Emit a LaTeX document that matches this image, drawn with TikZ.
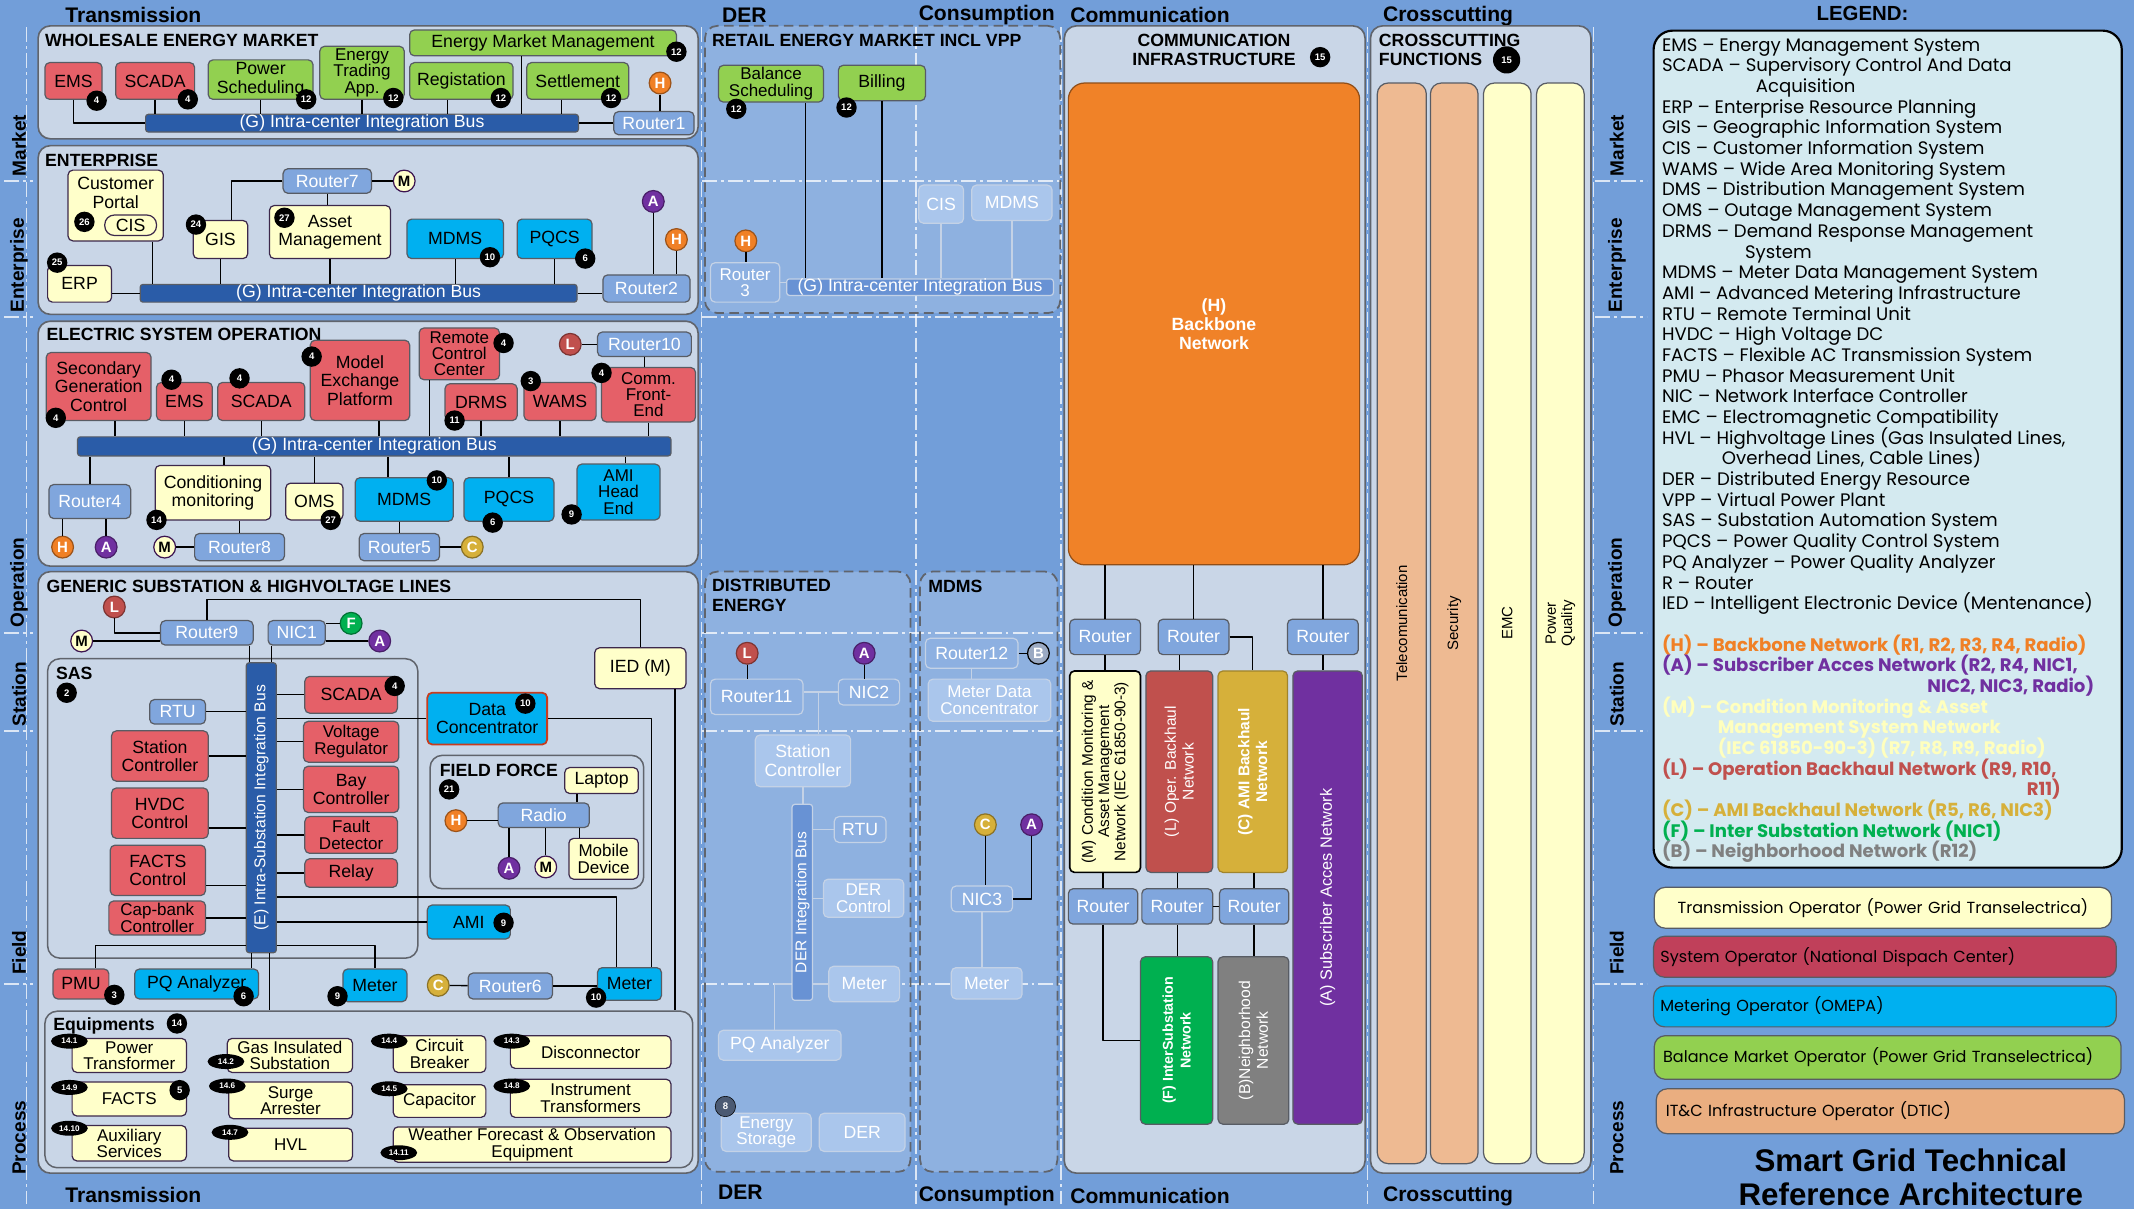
\documentclass[tikz,border=0pt]{standalone}
\usepackage{fontspec}
\setmainfont{Liberation Sans}
\newfontfamily\legendfont{Poppins}
\usetikzlibrary{positioning,shapes.geometric}
\newcommand{\legsize}{\fontsize{13.3}{15.2}\selectfont\setlength{\lineskiplimit}{-40pt}}

\definecolor{bgblue}{RGB}{114,158,217}
\definecolor{panelfill}{RGB}{201,214,231}
\definecolor{panelline}{RGB}{96,100,108}
\definecolor{nodered}{RGB}{229,96,104}
\definecolor{nodegreen}{RGB}{146,208,80}
\definecolor{nodeyellow}{RGB}{255,255,202}
\definecolor{nodecyan}{RGB}{0,176,240}
\definecolor{edgegray}{RGB}{88,92,100}
\definecolor{yline}{RGB}{60,40,75}
\definecolor{routerblue}{RGB}{128,166,221}
\definecolor{busblue}{RGB}{42,92,168}
\definecolor{ghostfill}{RGB}{170,198,236}
\definecolor{ghostline}{RGB}{196,210,230}
\definecolor{ghostbus}{RGB}{104,146,212}
\definecolor{hcol}{RGB}{240,128,38}
\definecolor{acol}{RGB}{112,48,160}
\definecolor{lcol}{RGB}{192,80,77}
\definecolor{ccol}{RGB}{214,176,58}
\definecolor{fcol}{RGB}{0,176,80}
\definecolor{bcol}{RGB}{128,128,128}
\definecolor{bnet}{RGB}{155,170,195}
\definecolor{mline}{RGB}{60,20,80}
\definecolor{bbone}{RGB}{240,130,40}
\definecolor{peach}{RGB}{238,186,146}
\definecolor{legfill}{RGB}{212,234,240}
\definecolor{sysop}{RGB}{192,64,90}
\definecolor{itc}{RGB}{234,174,128}
\definecolor{mtext}{RGB}{255,255,190}
\definecolor{dcline}{RGB}{200,60,30}
\definecolor{badgegray}{RGB}{75,90,115}

\begin{document}
\begin{tikzpicture}[x=1pt,y=-1pt,line join=round,
  wh/.style 2 args={minimum width=#1,minimum height=#2},
  box/.style={draw=edgegray,line width=0.9pt,rounded corners=3.5pt,align=center,inner sep=1pt,
    font=\fontsize{13}{13.5}\selectfont},
  tight/.style={inner sep=0pt,font=\fontsize{12.5}{12}\selectfont},
  rbox/.style={box,fill=nodered},
  gbox/.style={box,fill=nodegreen},
  ybox/.style={box,fill=nodeyellow,draw=yline},
  cbox/.style={box,fill=nodecyan},
  router/.style={box,fill=routerblue,text=white},
  grouter/.style={box,fill=routerblue!70!ghostfill,draw=ghostline,text=white},
  ghost/.style={box,fill=ghostfill,draw=ghostline,text=white},
  bus/.style={box,fill=busblue,text=white,rounded corners=2pt,inner sep=0pt},
  panel/.style={draw=panelline,fill=panelfill,line width=1.2pt,rounded corners=9pt},
  dpanel/.style={draw=panelline,fill=white,fill opacity=0.2,line width=1.3pt,dash pattern=on 7pt off 4pt,rounded corners=9pt},
  sub/.style={draw=panelline,line width=1.1pt,rounded corners=9pt},
  ptitle/.style={anchor=west,inner sep=0pt,align=left,font=\bfseries\fontsize{13}{14}\selectfont},
  zone/.style={inner sep=0pt,font=\bfseries\fontsize{15.5}{16}\selectfont},
  side/.style={inner sep=0pt,rotate=90,font=\bfseries\fontsize{14}{14}\selectfont},
  badge/.style={circle,fill=black,text=white,inner sep=0pt,minimum size=15pt,font=\bfseries\fontsize{7}{7}\selectfont},
  tag/.style={ellipse,fill=black,text=white,inner sep=0pt,minimum width=27pt,minimum height=11pt,font=\bfseries\fontsize{6}{6}\selectfont},
  net/.style={circle,fill=#1,draw=#1!65!black,line width=0.9pt,text=white,inner sep=0pt,minimum size=16pt,font=\bfseries\fontsize{11}{11}\selectfont},
  wire/.style={draw=black,line width=1pt},
  gwire/.style={draw=ghostline,line width=1pt},
  sep/.style={draw=white,draw opacity=0.75,line width=1pt,dash pattern=on 11pt off 3pt on 2pt off 3pt},
  vtext/.style={rotate=90,align=center,inner sep=0pt},
  oper/.style={box,rounded corners=8pt,text width=330pt,align=left,font=\legendfont\fontsize{11.8}{12}\selectfont}]

\fill[bgblue] (0,0) rectangle (1568,888);
\useasboundingbox (0,0) rectangle (1568,888);

\foreach \xx in {19.5,515.5,673,779.5,1005,1171}
  \draw[sep] (\xx,20) -- (\xx,885);
\foreach \yy in {133,233,465,537,723}{
  \draw[sep] (3,\yy) -- (24,\yy);
  \draw[sep] (516,\yy) -- (780,\yy);
  \draw[sep] (1172,\yy) -- (1210,\yy);}

\node[zone] (ttrans) at (98,11) {Transmission};
\node[zone] (tder) at (547,11) {DER};
\node[zone] (tcons) at (725,11) {Consumption};
\node[zone] (tcomm) at (845,11) {Communication};
\node[zone] (tcross) at (1064,12) {Crosscutting};
\node[zone] (btrans) at (98,878) {Transmission};
\node[zone] (bder) at (544,876) {DER};
\node[zone] (bcons) at (725,879) {Consumption};
\node[zone] (bcomm) at (845,879) {Communication};
\node[zone] (bcross) at (1064,879) {Crosscutting};
\foreach \nm/\yy [count=\i] in {Market/107,Enterprise/195,Operation/428,Station/510,Field/700,Process/836}{
  \node[side] (lz\i) at (14,\yy) {\nm};
  \node[side] (rz\i) at (1188,\yy) {\nm};}

\node[panel,wh={485}{83}] (pwm) at (270.5,60.5) {};
\node[panel,wh={485}{124}] (pent) at (270.5,169) {};
\node[panel,wh={485}{180}] (pop) at (270.5,326) {};
\node[panel,wh={485}{442}] (psub) at (270.5,641) {};
\node[dpanel,wh={261}{211}] (pret) at (648.5,124.5) {};
\node[dpanel,wh={151}{441}] (pder) at (593.5,640.5) {};
\node[dpanel,wh={101}{441}] (pmd) at (726.5,640.5) {};
\node[panel,wh={221}{843}] (pcom) at (892.5,440.5) {};
\node[panel,wh={162}{843}] (pcross) at (1088,440.5) {};

\node[ptitle] (twm) at (33,30) {WHOLESALE ENERGY MARKET};
\node[rbox,wh={42}{27}] (wems) at (54,59.5) {EMS};
\node[rbox,wh={58}{27}] (wscada) at (114,59.5) {SCADA};
\node[gbox,wh={77}{29}] (wps) at (191.5,58.5) {Power\\Scheduling};
\node[gbox,tight,wh={62}{39}] (wtrade) at (266,53.5) {Energy\\Trading\\App.};
\node[gbox,wh={196}{19}] (wemm) at (399,31.5) {Energy Market Management};
\node[gbox,wh={76}{27}] (wreg) at (339,59.5) {Registation};
\node[gbox,wh={75}{27}] (wset) at (424.5,59.5) {Settlement};
\node[bus,wh={318}{13}] (wbus) at (266,90.5) {(G) Intra-center Integration Bus};
\node[router,wh={59}{17}] (r1) at (480.5,90.5) {Router1};
\node[net=hcol] (wh) at (485,61) {H};

\node[ptitle] (tent) at (33,118) {ENTERPRISE};
\node[ybox,wh={70}{52}] (cport) at (85,151) {};
\node[inner sep=0pt,align=center,font=\fontsize{13}{14}\selectfont] (tcport) at (85,142) {Customer\\Portal};
\node[ybox,wh={38}{15},rounded corners=7pt,inner sep=0pt] (cis) at (96,165.5) {CIS};
\node[router,wh={65}{18}] (r7) at (240.5,133) {Router7};
\node[net=nodeyellow,draw=mline,text=black] (em) at (297,133) {M};
\node[ybox,wh={40}{28}] (gis) at (162,176) {GIS};
\node[ybox,wh={89}{39}] (asset) at (242.5,170.5) {Asset\\Management};
\node[cbox,wh={71}{29}] (emdms) at (334.5,175.5) {MDMS};
\node[cbox,wh={55}{29}] (epqcs) at (407.5,175.5) {PQCS};
\node[net=acol] (ea) at (480,148) {A};
\node[net=hcol] (eh) at (497,176) {H};
\node[router,wh={64}{20}] (r2) at (475,212) {Router2};
\node[ybox,wh={47}{27}] (erp) at (58.5,208.5) {ERP};
\node[bus,wh={321}{13}] (ebus) at (263.5,215.5) {(G) Intra-center Integration Bus};

\node[ptitle] (top) at (34,246) {ELECTRIC SYSTEM OPERATION};
\node[rbox,wh={77}{50}] (sgc) at (72.5,284) {Secondary\\Generation\\Control};
\node[rbox,wh={41}{28}] (oems) at (135.5,295) {EMS};
\node[rbox,wh={64}{28}] (oscada) at (192,295) {SCADA};
\node[rbox,wh={73}{59}] (mep) at (264.5,279.5) {Model\\Exchange\\Platform};
\node[rbox,tight,wh={59}{38}] (rcc) at (337.5,260) {Remote\\Control\\Center};
\node[net=lcol] (ol) at (419,253) {L};
\node[router,wh={69}{18}] (r10) at (473.5,253) {Router10};
\node[rbox,wh={53}{27}] (drms) at (353.5,295.5) {DRMS};
\node[rbox,wh={53}{28}] (wams) at (411.5,295) {WAMS};
\node[rbox,tight,wh={69}{40}] (cfe) at (476.5,290) {Comm.\\Front-\\End};
\node[bus,wh={436}{14}] (obus) at (275,328) {(G) Intra-center Integration Bus};
\node[router,wh={60}{25}] (r4) at (66,368.5) {Router4};
\node[net=hcol] (oh) at (46,402) {H};
\node[net=acol] (oa) at (78,402) {A};
\node[ybox,wh={85}{40}] (cond) at (156.5,362) {Conditioning\\monitoring};
\node[net=nodeyellow,draw=mline,text=black] (om) at (121,402) {M};
\node[router,wh={66}{20}] (r8) at (176,402) {Router8};
\node[ybox,wh={42}{27}] (oms) at (231,368.5) {OMS};
\node[cbox,wh={72}{32}] (omdms) at (297,367) {MDMS};
\node[cbox,wh={66}{32}] (opqcs) at (374,367) {PQCS};
\node[cbox,tight,wh={61}{41}] (amihe) at (454.5,361.5) {AMI\\Head\\End};
\node[router,wh={59}{20}] (r5) at (293.5,402) {Router5};
\node[net=ccol] (oc) at (347,402) {C};

\node[ptitle] (tsub) at (34,431) {GENERIC SUBSTATION \& HIGHVOLTAGE LINES};
\node[sub,wh={272}{220}] (sas) at (171,594) {};
\node[ptitle] (tsas) at (41,495) {SAS};
\node[sub,wh={157}{98}] (ffbox) at (394.5,604) {};
\node[ptitle] (tff) at (323,566) {FIELD FORCE};
\node[sub,wh={476}{115}] (equip) at (271,800.5) {};
\node[ptitle] (teq) at (39,754) {Equipments};
\node[net=lcol] (gl) at (84,446) {L};
\node[net=nodeyellow,draw=mline,text=black] (gm) at (60,471) {M};
\node[router,wh={68}{18}] (r9) at (152,465) {Router9};
\node[router,wh={42}{18}] (nic1) at (218,465) {NIC1};
\node[net=fcol] (gf) at (258,458) {F};
\node[net=acol] (ga) at (279,471) {A};
\node[ybox,wh={67}{30}] (ied) at (470.5,491) {IED (M)};
\node[bus,wh={22}{213}] (sbus) at (192,593.5) {};
\node[vtext,text=white,font=\fontsize{11.5}{12}\selectfont] (tsbus) at (192,593.5) {(E) Intra-Substation Integration Bus};
\node[router,wh={41}{18}] (rtu) at (130.5,523) {RTU};
\node[rbox,wh={71}{37}] (stc) at (117.5,555.5) {Station\\Controller};
\node[rbox,wh={71}{37}] (hvdc) at (117.5,597.5) {HVDC\\Control};
\node[rbox,wh={70}{37}] (facts) at (116,639.5) {FACTS\\Control};
\node[rbox,tight,wh={71}{25}] (capb) at (115.5,674.5) {Cap-bank\\Controller};
\node[rbox,wh={68}{27}] (sscada) at (258,510.5) {SCADA};
\node[rbox,tight,wh={70}{30}] (vreg) at (258,545) {Voltage\\Regulator};
\node[rbox,wh={70}{34}] (bay) at (258,580) {Bay\\Controller};
\node[rbox,tight,wh={68}{27}] (fault) at (258,613.5) {Fault\\Detector};
\node[rbox,wh={68}{21}] (relay) at (258,641.5) {Relay};
\node[cbox,wh={88}{38},draw=dcline,line width=1.3pt] (dc) at (358,528) {Data\\Concentrator};
\node[ybox,wh={54}{19}] (laptop) at (442,573.5) {Laptop};
\node[router,wh={67}{18}] (radio) at (399.5,599) {Radio};
\node[net=hcol] (fh) at (335,603) {H};
\node[net=acol] (fa) at (374,638) {A};
\node[net=nodeyellow,draw=mline,text=black] (fm) at (401,637) {M};
\node[ybox,tight,wh={51}{30}] (mobile) at (443.5,631) {Mobile\\Device};
\node[cbox,wh={61}{25}] (ami) at (344.5,677.5) {AMI};
\node[rbox,wh={41}{22}] (pmu) at (59.5,723) {PMU};
\node[cbox,wh={91}{22}] (pqa) at (144.5,723) {PQ Analyzer};
\node[cbox,wh={47}{24}] (met9) at (275.5,724) {Meter};
\node[net=ccol] (gc) at (322,724) {C};
\node[router,wh={62}{19}] (r6) at (375,724.5) {Router6};
\node[cbox,wh={47}{24}] (met10) at (462.5,723) {Meter};
\node[ybox,tight,wh={84}{25}] (eq1) at (95,775.5) {Power\\Transformer};
\node[ybox,tight,wh={92}{25}] (eq2) at (213,775.5) {Gas Insulated\\Substation};
\node[ybox,tight,wh={68}{27}] (eq4) at (323,774.5) {Circuit\\Breaker};
\node[ybox,tight,wh={118}{24}] (eq3) at (434,773) {Disconnector};
\node[ybox,tight,wh={84}{25}] (eq9) at (95,807.5) {FACTS};
\node[ybox,tight,wh={91}{27}] (eq6) at (213.5,808.5) {Surge\\Arrester};
\node[ybox,tight,wh={68}{24}] (eq5) at (323,809) {Capacitor};
\node[ybox,tight,wh={118}{28}] (eq8) at (434,807) {Instrument\\Transformers};
\node[ybox,tight,wh={84}{26}] (eq10) at (95,840) {Auxiliary\\Services};
\node[ybox,tight,wh={91}{24}] (eq7) at (213.5,841) {HVL};
\node[ybox,tight,wh={204}{26}] (eq11) at (391,841) {Weather Forecast \& Observation\\Equipment};

\node[ptitle] (tret) at (523,30) {RETAIL ENERGY MARKET INCL VPP};
\node[gbox,tight,wh={77}{27}] (bsch) at (566.5,61.5) {Balance\\Scheduling};
\node[gbox,wh={64}{26}] (bill) at (648,61) {Billing};
\node[ghost,wh={33}{28}] (rcis) at (691.5,150) {CIS};
\node[ghost,wh={59}{26}] (rmdms) at (743.5,149) {MDMS};
\node[net=hcol] (rh) at (548,177) {H};
\node[grouter,tight,wh={51}{29}] (r3) at (547.5,207.5) {Router\\3};
\node[bus,fill=ghostbus,draw=ghostline,wh={196}{12}] (rbus) at (676,211) {(G) Intra-center Integration Bus};

\node[ptitle] (tdist) at (523,437.5) {DISTRIBUTED\\ENERGY};
\node[net=lcol] (dl) at (549,480) {L};
\node[net=acol] (da) at (635,480) {A};
\node[grouter,wh={68}{26}] (r11) at (556,512) {Router11};
\node[grouter,wh={45}{19}] (nic2) at (638.5,508.5) {NIC2};
\node[ghost,wh={70}{38}] (dstc) at (590,559) {Station\\Controller};
\node[bus,fill=ghostbus,draw=ghostline,wh={15}{144}] (dbus) at (589.5,663) {};
\node[vtext,text=white,font=\fontsize{11.4}{12}\selectfont] (tdbus) at (589.5,663) {DER Integration Bus};
\node[grouter,wh={38}{19}] (drtu) at (632,609.5) {RTU};
\node[ghost,tight,wh={59}{28}] (derc) at (634.5,660) {DER\\Control};
\node[ghost,wh={52}{26}] (dmet) at (635,723) {Meter};
\node[ghost,wh={90}{22}] (dpqa) at (573,768) {PQ Analyzer};
\node[ghost,tight,wh={66}{28}] (estor) at (563,832) {Energy\\Storage};
\node[ghost,wh={63}{28}] (der) at (633.5,832) {DER};

\node[ptitle] (tmd) at (682,431) {MDMS};
\node[grouter,wh={68}{22}] (r12) at (714,480) {Router12};
\node[net=bnet,draw=black] (mb) at (763,480) {B};
\node[ghost,tight,wh={90}{31}] (mdc) at (727,514.5) {Meter Data\\Concentrator};
\node[net=ccol] (mc) at (724,606) {C};
\node[net=acol] (ma) at (758,606) {A};
\node[grouter,wh={45}{19}] (nic3) at (721.5,660.5) {NIC3};
\node[ghost,wh={52}{23}] (mmet) at (725,722.5) {Meter};

\node[ptitle,anchor=center,align=center] (tcom) at (892,37) {COMMUNICATION\\INFRASTRUCTURE};
\node[box,fill=bbone,draw=bbone!60!black,wh={214}{354},rounded corners=12pt,text=white,font=\bfseries\fontsize{13}{14}\selectfont] (bbn) at (892,238) {(H)\\Backbone\\Network};
\node[router,wh={52}{26}] (cr1) at (812,468) {Router};
\node[router,wh={52}{26}] (cr2) at (877,468) {Router};
\node[router,wh={52}{26}] (cr3) at (972,468) {Router};
\node[ybox,wh={52}{148},draw=black,line width=1.2pt] (cm) at (812,567) {};
\node[vtext,font=\fontsize{11.3}{12}\selectfont] (tcm) at (812,567) {(M) Condition Monitoring \&\\Asset Management\\Network (IEC 61850-90-3)};
\node[box,fill=lcol,wh={49}{148}] (cl) at (866.5,567) {};
\node[vtext,text=white,font=\fontsize{11.4}{13}\selectfont] (tcl) at (866.5,567) {(L) Oper. Backhaul\\Network};
\node[box,fill=ccol,draw=ccol!75!black,wh={51}{148}] (cc) at (920.5,567) {};
\node[vtext,text=white,font=\bfseries\fontsize{11.4}{13}\selectfont] (tcc) at (920.5,567) {(C) AMI Backhaul\\Network};
\node[box,fill=acol,wh={51}{333}] (ca) at (975.5,659.5) {};
\node[vtext,text=white,font=\fontsize{12}{13}\selectfont] (tca) at (975.5,659.5) {(A) Subscriber Acces Network};
\node[router,wh={51}{26}] (cr4) at (810.5,666) {Router};
\node[router,wh={52}{26}] (cr5) at (865,666) {Router};
\node[router,wh={51}{26}] (cr6) at (921.5,666) {Router};
\node[box,fill=fcol,wh={53}{123}] (cf) at (864.5,764.5) {};
\node[vtext,text=white,font=\bfseries\fontsize{10.5}{13}\selectfont] (tcf) at (864.5,764.5) {(F) InterSubstation\\Network};
\node[box,fill=bcol,wh={52}{123}] (cb) at (921,764.5) {};
\node[vtext,text=white,font=\fontsize{11.5}{13}\selectfont] (tcb) at (921,764.5) {(B)Neighborhood\\Network};

\node[ptitle] (tcrs) at (1013,37) {CROSSCUTTING\\FUNCTIONS};
\node[box,fill=peach,wh={36}{794},rounded corners=8pt] (xtel) at (1030,458) {};
\node[vtext,font=\fontsize{11}{12}\selectfont] (txtel) at (1030,458) {Telecomunication};
\node[box,fill=peach,wh={35}{794},rounded corners=8pt] (xsec) at (1068.5,458) {};
\node[vtext,font=\fontsize{11}{12}\selectfont] (txsec) at (1068.5,458) {Security};
\node[box,fill=nodeyellow,wh={35}{794},rounded corners=8pt] (xemc) at (1107.5,458) {};
\node[vtext,font=\fontsize{11}{12}\selectfont] (txemc) at (1107.5,458) {EMC};
\node[box,fill=nodeyellow,wh={35}{794},rounded corners=8pt] (xpq) at (1146.5,458) {};
\node[vtext,font=\fontsize{11}{12}\selectfont] (txpq) at (1146.5,458) {Power\\Quality};

\node[inner sep=0pt,font=\bfseries\fontsize{15}{15}\selectfont] (tleg) at (1368.5,10) {LEGEND:};
\node[draw=black,line width=1.6pt,fill=legfill,rounded corners=14pt,wh={344}{615}] (leg) at (1387,330) {};
\node[anchor=north west,inner sep=0pt,align=left,font=\legendfont\legsize] (legtxt) at (1221,28) {%
EMS – Energy Management System\\
SCADA – Supervisory Control And Data\\
\hspace*{69pt}Acquisition\\
ERP – Enterprise Resource Planning\\
GIS – Geographic Information System\\
CIS – Customer Information System\\
WAMS – Wide Area Monitoring System\\
DMS – Distribution Management System\\
OMS – Outage Management System\\
DRMS – Demand Response Management\\
\hspace*{61pt}System\\
MDMS – Meter Data Management System\\
AMI – Advanced Metering Infrastructure\\
RTU – Remote Terminal Unit\\
HVDC – High Voltage DC\\
FACTS – Flexible AC Transmission System\\
PMU – Phasor Measurement Unit\\
NIC – Network Interface Controller\\
EMC – Electromagnetic Compatibility\\
HVL – Highvoltage Lines (Gas Insulated Lines,\\
\hspace*{44pt}Overhead Lines, Cable Lines)\\
DER – Distributed Energy Resource\\
VPP – Virtual Power Plant\\
SAS – Substation Automation System\\
PQCS – Power Quality Control System\\
PQ Analyzer – Power Quality Analyzer\\
R – Router\\
IED – Intelligent Electronic Device (Mentenance)\\
\mbox{}\\
{\bfseries\color{hcol}(H) – Backbone Network (R1, R2, R3, R4, Radio)}\\
{\bfseries\color{acol}(A) – Subscriber Acces Network (R2, R4, NIC1,}\\
\hspace*{195pt}{\bfseries\color{acol}NIC2, NIC3, Radio)}\\
{\bfseries\color{mtext}(M) – Condition Monitoring \& Asset}\\
\hspace*{41pt}{\bfseries\color{mtext}Management System Network}\\
\hspace*{41pt}{\bfseries\color{mtext}(IEC 61850-90-3) (R7, R8, R9, Radio)}\\
{\bfseries\color{lcol}(L) – Operation Backhaul Network (R9, R10,}\\
\hspace*{268pt}{\bfseries\color{lcol}R11)}\\
{\bfseries\color{ccol}(C) – AMI Backhaul Network (R5, R6, NIC3)}\\
{\bfseries\color{fcol}(F) – Inter Substation Network (NIC1)}\\
{\bfseries\color{bcol}(B) – Neighborhood Network (R12)}};

\node[oper,fill=nodeyellow,wh={336}{30},align=center] (op1) at (1383.5,667) {Transmission Operator (Power Grid Transelectrica)};
\node[oper,fill=sysop,wh={340}{30}] (op2) at (1385,703) {System Operator (National Dispach Center)};
\node[oper,fill=nodecyan,wh={340}{30}] (op3) at (1385,739.5) {Metering Operator (OMEPA)};
\node[oper,fill=nodegreen,wh={343}{32}] (op4) at (1387,777) {Balance Market Operator (Power Grid Transelectrica)};
\node[oper,fill=itc,wh={344}{33}] (op5) at (1389,816.5) {IT\&C Infrastructure Operator (DTIC)};
\node[align=center,inner sep=0pt,font=\bfseries\fontsize{23}{24.5}\selectfont] (title) at (1404,865) {Smart Grid Technical\\Reference Architecture};

\draw[wire] (wems) |- (wbus);
\draw[wire] (wscada) -- (wscada |- wbus.north);
\draw[wire] (wps) -- (wps |- wbus.north);
\draw[wire] (wtrade) -- (wtrade |- wbus.north);
\draw[wire] ([xshift=-10pt]wreg.south) -- ([xshift=-10pt]wreg.south |- wbus.north);
\draw[wire] ([xshift=-16pt]wemm.south) -- ([xshift=-16pt]wemm.south |- wbus.north);
\draw[wire] ([xshift=-12pt]wset.south) -- ([xshift=-12pt]wset.south |- wbus.north);
\draw[wire] (wbus) -- (r1);
\draw[wire] (wh) -- (wh |- r1.north);

\draw[wire] (r7) -| ([xshift=8pt]gis.north);
\draw[wire] (r7) -- (r7 |- asset.north);
\draw[wire] (r7) -- (em);
\draw[wire] ([xshift=27pt]cport.south) -- ([xshift=27pt]cport.south |- ebus.north);
\draw[wire] (gis) -- (gis |- ebus.north);
\draw[wire] (asset) -- (asset |- ebus.north);
\draw[wire] (emdms) -- (emdms |- ebus.north);
\draw[wire] (epqcs) -- (epqcs |- ebus.north);
\draw[wire] (erp.east |- ebus) -- (ebus);
\draw[wire] (ebus) -- (ebus -| r2.west);
\draw[wire] (ea) -- (ea |- r2.north);
\draw[wire] (eh) -- (eh |- r2.north);

\draw[wire] ([xshift=12pt]sgc.south) -- ([xshift=12pt]sgc.south |- obus.north);
\draw[wire] (oems) -- (oems |- obus.north);
\draw[wire] (oscada) -- (oscada |- obus.north);
\draw[wire] ([xshift=14pt]mep.south) -- ([xshift=14pt]mep.south |- obus.north);
\draw[wire] ([xshift=-22pt]rcc.south) -- ([xshift=-22pt]rcc.south |- obus.north);
\draw[wire] (drms) -- (drms |- obus.north);
\draw[wire] (wams) -- (wams |- obus.north);
\draw[wire] (cfe) -- (cfe |- obus.north);
\draw[wire] (ol) -- (r10);
\draw[wire] (r10) -- (r10 |- cfe.north);
\draw[wire] (r4) -- (r4 |- obus.south);
\draw[wire] ([xshift=8pt]cond.north) -- ([xshift=8pt]cond.north |- obus.south);
\draw[wire] (oms) -- (oms |- obus.south);
\draw[wire] ([xshift=-12pt]omdms.north) -- ([xshift=-12pt]omdms.north |- obus.south);
\draw[wire] (opqcs) -- (opqcs |- obus.south);
\draw[wire] ([xshift=5pt]amihe.north) -- ([xshift=5pt]amihe.north |- obus.south);
\draw[wire] (oh) -- (oh |- r4.south);
\draw[wire] (oa) -- (oa |- r4.south);
\draw[wire] (om) -- (r8);
\draw[wire] (r8) -- (r8 |- cond.south);
\draw[wire] (r5) -- (r5 |- omdms.south);
\draw[wire] (r5) -- (oc);

\draw[wire] (gl) |- (r9);
\draw[wire] (gm) -- (gm -| r9.west);
\draw[wire] (r9.north) |- ([yshift=35pt]ied.north) -- (ied.north);
\draw[wire] (nic1.east |- gf) -- (gf);
\draw[wire] (nic1.east |- ga) -- (ga);
\draw[wire] ([xshift=-3pt]r9.south east) -- ([xshift=-3pt]r9.south east |- sbus.north);
\draw[wire] ([xshift=3pt]nic1.south west) -- ([xshift=3pt]nic1.south west |- sbus.north);
\draw[wire] (rtu) -- (rtu -| sbus.west);
\draw[wire] (stc) -- (stc -| sbus.west);
\draw[wire] ([yshift=-11pt]hvdc.east) -- ([yshift=-11pt]hvdc.east -| sbus.west);
\draw[wire] ([yshift=-11pt]facts.east) -- ([yshift=-11pt]facts.east -| sbus.west);
\draw[wire] (capb) -- (capb -| sbus.west);
\draw[wire] (sscada) -- (sscada -| sbus.east);
\draw[wire] (vreg) -- (vreg -| sbus.east);
\draw[wire] (bay) -- (bay -| sbus.east);
\draw[wire] (fault) -- (fault -| sbus.east);
\draw[wire] (relay) -- (relay -| sbus.east);
\draw[wire] (dc) -- (dc -| sbus.east);
\draw[wire] (dc) -| ([xshift=16pt]met10.north);
\draw[wire] ([yshift=-65.5pt]sbus.east) -| ([xshift=-9.5pt]met10.north);
\draw[wire] (ami) -- (ami -| sbus.east);
\draw[wire] ([yshift=-101pt]sbus.west) -| ([xshift=10.5pt]pmu.north);
\draw[wire] ([yshift=-101pt]sbus.east) -| (met9);
\draw[wire] ([xshift=-7pt]sbus.south) -- ([xshift=-7pt]sbus.south |- pqa.north);
\draw[wire] ([xshift=6pt]sbus.south) -- ([xshift=6pt]sbus.south |- equip.north);
\draw[wire] ([xshift=25.5pt]ied.south) -- ([xshift=25.5pt]ied.south |- equip.north);
\draw[wire] ([xshift=-18pt]laptop.south) -- ([xshift=-18pt]laptop.south |- radio.north);
\draw[wire] (fh) -- (fh -| radio.west);
\draw[wire] (fa) -- (fa |- radio.south);
\draw[wire] (fm) -- (fm |- radio.south);
\draw[wire] ([xshift=-17.5pt]mobile.north) -- ([xshift=-17.5pt]mobile.north |- radio.south);
\draw[wire] (gc) -- (r6);
\draw[wire] (r6) -- (r6 -| met10.west);

\draw[wire] ([xshift=25.5pt]bsch.south) -- ([xshift=25.5pt]bsch.south |- rbus.north);
\draw[wire] (bill) -- (bill |- rbus.north);
\draw[gwire] (rcis) -- (rcis |- rbus.north);
\draw[gwire] (rmdms) -- (rmdms |- rbus.north);
\draw[wire] (rh) -- (rh |- r3.north);
\draw[gwire] (r3) -- (r3 -| rbus.west);

\draw[wire] (dl) -- (dl |- r11.north);
\draw[wire] (da) -- (da |- nic2.north);
\draw[gwire] (r11.east |- nic2) -- (nic2);
\draw[gwire] ([xshift=11.5pt]dstc.north) -- ([xshift=11.5pt]dstc.north |- nic2);
\draw[gwire] (dstc) -- (dstc |- dbus.north);
\draw[gwire] (drtu) -- (drtu -| dbus.east);
\draw[gwire] (derc) -- (derc -| dbus.east);
\draw[gwire] (dmet) -- (dmet -| dbus.east);
\draw[gwire] (dmet -| dbus.west) -| ([xshift=-4pt]dpqa.north);

\draw[wire] (r12) -- (mb);
\draw[gwire] (r12) -- (r12 |- mdc.north);
\draw[wire] (mc) -- (mc |- nic3.north);
\draw[wire] (ma) |- (nic3);
\draw[gwire] (nic3) -- (nic3 |- mmet.north);

\draw[wire] (cr1) -- (cr1 |- bbn.south);
\draw[wire] (cr2) -- (cr2 |- bbn.south);
\draw[wire] (cr3) -- (cr3 |- bbn.south);
\draw[wire] (cr1) -- (cm);
\draw[wire] (cr4) -- (cr4 |- cm.south);
\draw[wire] (cr4) |- (cf);
\draw[wire] (cl) -- (cl |- cr2.south);
\draw[wire] (cr2) -| (cc);
\draw[wire] (cr3) -- (cr3 |- ca.north);
\draw[wire] (cr5) -- (cr5 |- cl.south);
\draw[wire] (cr6) -- (cr6 |- cc.south);
\draw[wire] (cr5) -- (cr6);
\draw[wire] (cr5) -- (cr5 |- cf.north);
\draw[wire] (cr6) -- (cr6 |- cb.north);

\node[badge] (b1) at (71,74) {4};
\node[badge] (b2) at (138,73) {4};
\node[badge] (b3) at (225,73) {12};
\node[badge] (b4) at (289,72) {12};
\node[badge] (b5) at (368,72) {12};
\node[badge] (b6) at (449,72) {12};
\node[badge] (b7) at (497,38) {12};
\node[badge] (b8) at (62,163) {26};
\node[badge] (b9) at (144,165) {24};
\node[badge] (b10) at (209,160) {27};
\node[badge] (b11) at (360,189) {10};
\node[badge] (b12) at (430,190) {6};
\node[badge] (b13) at (42,193) {25};
\node[badge] (b14) at (41,307) {4};
\node[badge] (b15) at (126,279) {4};
\node[badge] (b16) at (176,278) {4};
\node[badge] (b17) at (229,262) {4};
\node[badge] (b18) at (370,252) {4};
\node[badge] (b19) at (334,309) {11};
\node[badge] (b20) at (390,280) {3};
\node[badge] (b21) at (442,274) {4};
\node[badge] (b22) at (115,382) {14};
\node[badge] (b23) at (243,382) {27};
\node[badge] (b24) at (321,353) {10};
\node[badge] (b25) at (362,384) {6};
\node[badge] (b26) at (420,378) {9};
\node[badge] (b27) at (49,509) {2};
\node[badge] (b28) at (290,504) {4};
\node[badge] (b29) at (386,517) {10};
\node[badge] (b30) at (330,580) {21};
\node[badge] (b31) at (370,678) {9};
\node[badge] (b32) at (84,731) {3};
\node[badge] (b33) at (179,732) {6};
\node[badge] (b34) at (248,732) {9};
\node[badge] (b35) at (438,733) {10};
\node[badge] (b36) at (130,752) {14};
\node[badge] (b37) at (132,801) {5};
\node[badge] (b38) at (541,80) {12};
\node[badge] (b39) at (622,79) {12};
\node[badge,fill=badgegray,draw=black] (b40) at (533,813) {8};
\node[badge] (b41) at (970,42) {15};
\node[badge,minimum width=20pt] (b42) at (1107,44) {15};
\node[tag] (q1) at (51,765) {14.1};
\node[tag] (q2) at (166,780) {14.2};
\node[tag] (q4) at (286,765) {14.4};
\node[tag] (q3) at (376,765) {14.3};
\node[tag] (q9) at (51,799) {14.9};
\node[tag] (q6) at (167,798) {14.6};
\node[tag] (q5) at (286,800) {14.5};
\node[tag] (q8) at (376,798) {14.8};
\node[tag] (q10) at (51,829) {14.10};
\node[tag] (q7) at (169,832) {14.7};
\node[tag] (q11) at (293,847) {14.11};
\end{tikzpicture}
\end{document}
